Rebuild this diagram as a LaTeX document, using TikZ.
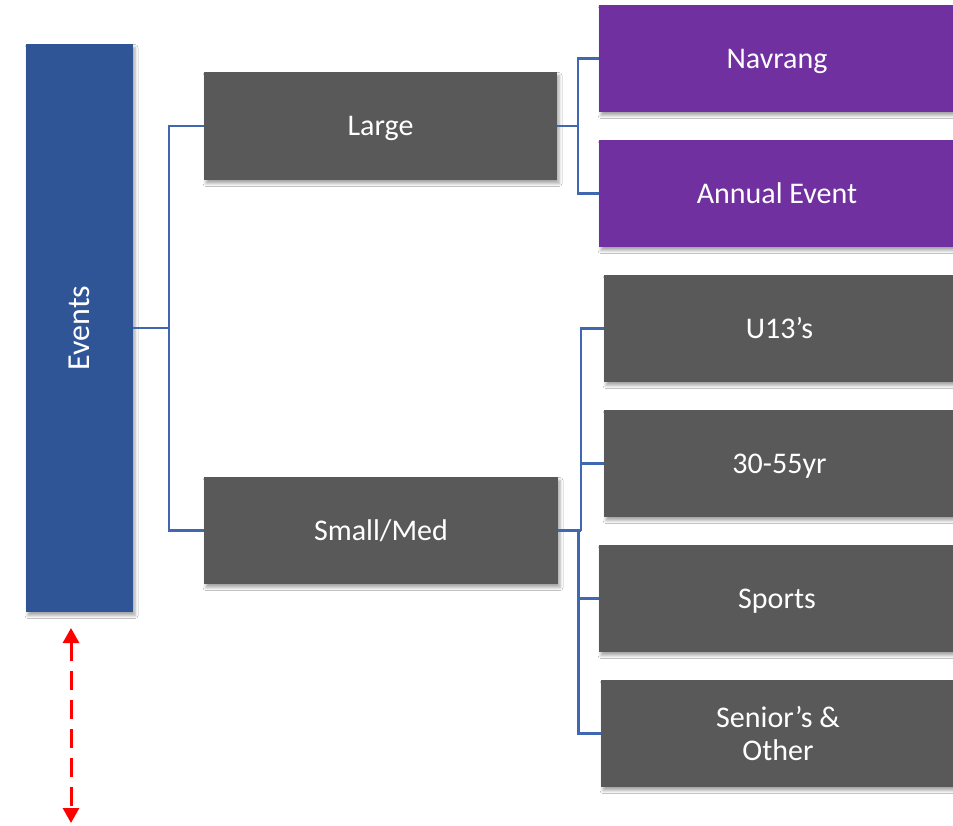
\documentclass[tikz,border=0pt]{standalone}
\usepackage{fontspec}
\setmainfont{Carlito}
\usetikzlibrary{arrows.meta,shadows.blur}
\definecolor{evblue}{HTML}{2F5597}
\definecolor{boxgray}{HTML}{595959}
\definecolor{boxpurple}{HTML}{7030A0}
\definecolor{linkblue}{HTML}{3F67B2}
\tikzset{
  box/.style={rectangle, draw=none, inner sep=0pt, text=white,
    font=\fontsize{30}{33}\selectfont, align=center,
    blur shadow={shadow xshift=2pt, shadow yshift=-3.5pt, shadow blur radius=3pt, shadow opacity=35}},
  oneline/.style={text height=19.5pt, text depth=0pt},
  graybox/.style={box, fill=boxgray},
  purplebox/.style={box, fill=boxpurple},
  link/.style={draw=linkblue, line width=2.4pt},
  span/.style={draw=red, line width=3pt, dash pattern=on 19pt off 10pt,
    {Triangle[width=16pt,length=15pt]}-{Triangle[width=16pt,length=15pt]}}
}
\begin{document}
\begin{tikzpicture}[x=1pt,y=-1pt]
\clip (0,0) rectangle (953,825);
\fill[white] (0,0) rectangle (953,825);
% nodes
\node[box, fill=evblue, font=\fontsize{32}{36}\selectfont, minimum width=107pt, minimum height=568pt] (ev) at (79.5,328) {\rotatebox{90}{Events}};
\node[graybox, oneline, minimum width=353pt, minimum height=108pt] (large) at (380.5,126) {Large};
\node[graybox, oneline, minimum width=354pt, minimum height=107pt] (small) at (381,530.5) {Small/Med};
\node[purplebox, oneline, minimum width=356pt, minimum height=107pt] (nav) at (777,58.5) {Navrang};
\node[purplebox, oneline, minimum width=356pt, minimum height=107pt] (ann) at (777,193.5) {Annual Event};
\node[graybox, oneline, minimum width=351pt, minimum height=107pt] (u13) at (779.5,328.5) {U13’s};
\node[graybox, oneline, minimum width=351pt, minimum height=107pt] (mid) at (779.5,463.5) {30-55yr};
\node[graybox, oneline, minimum width=356pt, minimum height=107pt] (sp) at (777,598.5) {Sports};
\node[graybox, minimum width=354pt, minimum height=107pt] (sen) at (778,733.5) {Senior’s \&\\Other};
% junction coordinates
\coordinate (j1) at (169,0);
\coordinate (j2) at (578,0);
\coordinate (j3) at (581,0);
\coordinate (j4) at (578.5,0);
% connectors
\path[link] (ev.east) -- (ev.east -| j1);
\path[link] (large.west) -- (large.west -| j1) -- (small.west -| j1) -- (small.west);
\path[link] (large.east) -- (large.east -| j2);
\path[link] (nav.west) -- (nav.west -| j2) -- (ann.west -| j2) -- (ann.west);
\path[link] (small.east) -- (small.east -| j3);
\path[link] (u13.west) -- (u13.west -| j3) -- (small.east -| j3);
\path[link] (mid.west) -- (mid.west -| j3);
\path[link] (small.east -| j4) -- (sen.west -| j4) -- (sen.west);
\path[link] (sp.west) -- (sp.west -| j4);
% red span arrow
\coordinate (a1) at (71,628);
\coordinate (a2) at (71,823);
\draw[span] (a1) -- (a2);
\end{tikzpicture}
\end{document}
